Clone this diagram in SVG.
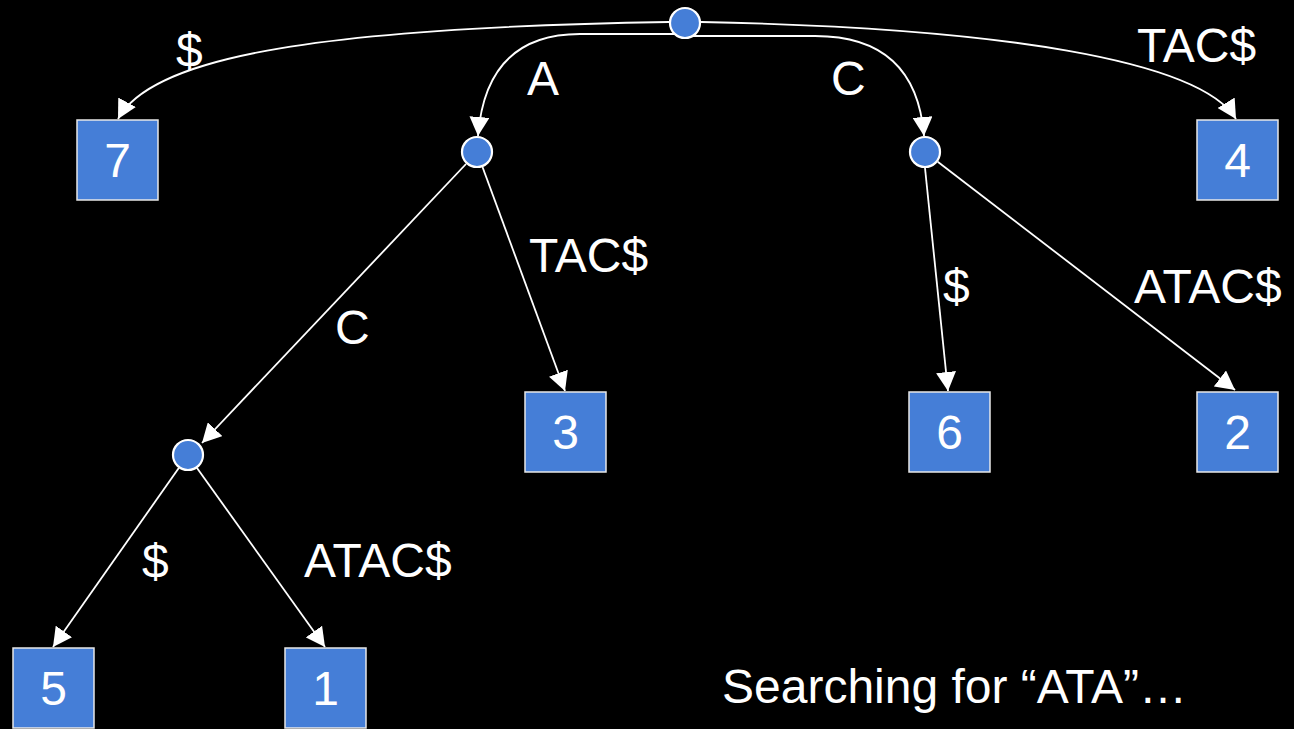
<svg xmlns="http://www.w3.org/2000/svg" width="1294" height="729" viewBox="0 0 1294 729">
  <defs>
    <marker id="arrow" markerUnits="userSpaceOnUse" markerWidth="20" markerHeight="20" refX="19" refY="10" orient="auto" viewBox="0 0 20 20">
      <path d="M0,0 L19,10 L0,20 z" fill="#ffffff"/>
    </marker>
    <style>
      .edge { fill: none; stroke: #ffffff; stroke-width: 1.8; marker-end: url(#arrow); }
      .inner { fill: #457ed7; stroke: #ffffff; stroke-width: 2.2; }
      .leaf { fill: #457ed7; stroke: #e8e8e8; stroke-width: 1.5; }
      .num { font-family: "Liberation Sans", Arial, sans-serif; font-size: 48px; fill: #ffffff; text-anchor: middle; }
      .lbl { font-family: "Liberation Sans", Arial, sans-serif; font-size: 48px; fill: #ffffff; }
    </style>
  </defs>
  <rect x="0" y="0" width="1294" height="729" fill="#000000"/>

  <!-- edges -->
  <g id="connectors">
    <path class="edge" d="M669,22 C300,28 150,60 118,119"/>
    <path class="edge" d="M701,22 C1000,28 1200,60 1236,119"/>
    <path class="edge" d="M685,34 H580 Q486,34 478,136"/>
    <path class="edge" d="M685,36 H815 Q916,36 924,136"/>
    <line class="edge" x1="466" y1="164" x2="202" y2="443"/>
    <line class="edge" x1="482.5" y1="167" x2="565" y2="391"/>
    <line class="edge" x1="925" y1="168" x2="948" y2="391"/>
    <line class="edge" x1="937.7" y1="161.7" x2="1235" y2="390"/>
    <line class="edge" x1="178.8" y1="468" x2="53" y2="647"/>
    <line class="edge" x1="197" y1="468" x2="325" y2="647"/>
  </g>

  <!-- edge labels -->
  <g id="edge-labels">
    <text class="lbl" x="176" y="67">$</text>
    <text class="lbl" x="1137" y="62">TAC$</text>
    <text class="lbl" x="527" y="95">A</text>
    <text class="lbl" x="831" y="95">C</text>
    <text class="lbl" x="529" y="272">TAC$</text>
    <text class="lbl" x="335" y="344">C</text>
    <text class="lbl" x="943" y="303">$</text>
    <text class="lbl" x="1134" y="303">ATAC$</text>
    <text class="lbl" x="142" y="578">$</text>
    <text class="lbl" x="304" y="577">ATAC$</text>
  </g>

  <!-- internal nodes -->
  <g id="root"><circle class="inner" cx="685" cy="23" r="15"/></g>
  <g id="node-a"><circle class="inner" cx="477" cy="152" r="15"/></g>
  <g id="node-c"><circle class="inner" cx="925" cy="152" r="15"/></g>
  <g id="node-ac"><circle class="inner" cx="188" cy="455" r="15"/></g>

  <!-- leaves -->
  <g id="leaf-7"><rect class="leaf" x="77" y="120" width="81" height="80"/><text class="num" x="117.5" y="177">7</text></g>
  <g id="leaf-4"><rect class="leaf" x="1197" y="120" width="81" height="80"/><text class="num" x="1237.5" y="177">4</text></g>
  <g id="leaf-3"><rect class="leaf" x="525" y="392" width="81" height="80"/><text class="num" x="565.5" y="449">3</text></g>
  <g id="leaf-6"><rect class="leaf" x="909" y="392" width="81" height="80"/><text class="num" x="949.5" y="449">6</text></g>
  <g id="leaf-2"><rect class="leaf" x="1197" y="392" width="81" height="80"/><text class="num" x="1237.5" y="449">2</text></g>
  <g id="leaf-5"><rect class="leaf" x="13" y="648" width="81" height="80"/><text class="num" x="53.5" y="705">5</text></g>
  <g id="leaf-1"><rect class="leaf" x="285" y="648" width="81" height="80"/><text class="num" x="325.5" y="705">1</text></g>

  <text class="lbl" x="722" y="703">Searching for “ATA”…</text>
</svg>
